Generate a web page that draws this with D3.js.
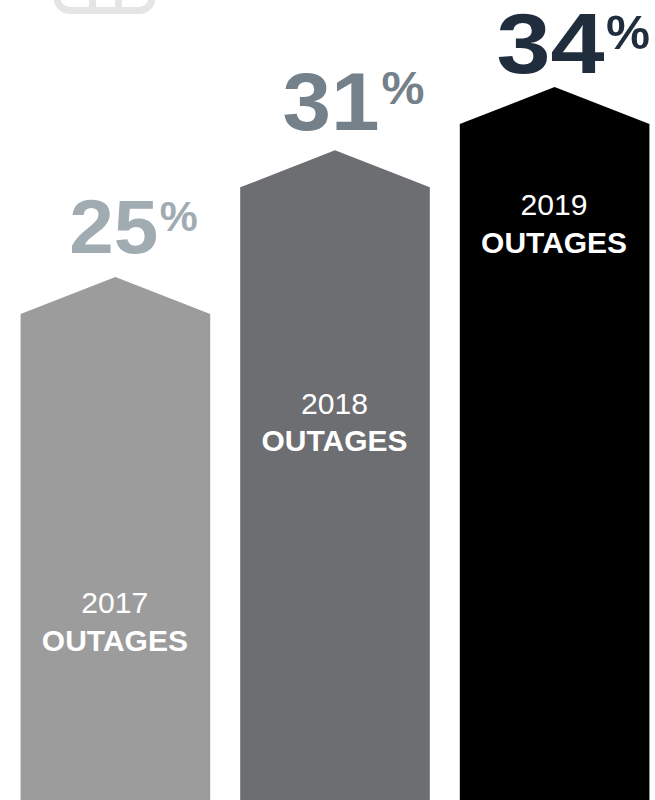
<!DOCTYPE html>
<html>
<head>
<meta charset="utf-8">
<script src="https://cdn.jsdelivr.net/npm/d3@7"></script>
<style>
  html, body { margin: 0; padding: 0; background: #fff; }
  svg { display: block; }
  text { font-family: "Liberation Sans", Arial, sans-serif; }
</style>
</head>
<body>
<div id="chart"></div>
<script>
const years = ["2017", "2018", "2019"];
const shares = [25, 31, 34];
const barColors = ["#9c9c9c", "#6d6e71", "#000000"];
const numberColors = ["#a0abb2", "#74818a", "#1f2d3d"];
const caption = "OUTAGES";

const width = 655, height = 800;
const svg = d3.select("#chart").append("svg").attr("width", width).attr("height", height);

const x = d3.scaleBand().domain(years).range([5.2, 664.8]).paddingInner(0.1365).paddingOuter(0.07);
const y = d3.scaleLinear().domain([0, 34]).range([805, 87]);
const shoulder = 37;

// Decorative emblem cut off by the top edge
const emblem = svg.append("g").attr("fill", "none").attr("stroke", "#e5e5e5").attr("stroke-width", 7);
emblem.append("rect").attr("x", 57).attr("y", -40).attr("width", 95).attr("height", 50.5).attr("rx", 13);
emblem.selectAll("line").data([92.5, 118.5]).join("line")
  .attr("x1", d => d).attr("x2", d => d).attr("y1", -5).attr("y2", 10);

// Arrow-shaped columns
const rows = years.map((year, i) => ({ year, value: shares[i], i }));
const bars = svg.selectAll("g.bar").data(rows).join("g").attr("class", "bar");
const mid = d => x(d.year) + x.bandwidth() / 2;

bars.append("path")
  .attr("fill", d => barColors[d.i])
  .attr("d", d => {
    const l = x(d.year), r = l + x.bandwidth(), top = y(d.value);
    return d3.line()([[l, height], [l, top + shoulder], [(l + r) / 2, top], [r, top + shoulder], [r, height]]) + "Z";
  });

// Large percentage figures above each column, stretched to the wide numeral set
const sizes = [76, 82, 85];
const figureWidths = [89, 97, 108];
const figureOffsets = [-1.5, -4, -4];
const figureLift = [24, 20, 14];
const pctSizes = [42, 46, 49];
const pctWidths = [38, 43, 44];
const pctOffsets = [63.5, 68, 73.5];
const pctLift = [46, 46, 38];

bars.append("text")
  .attr("x", d => mid(d) + figureOffsets[d.i])
  .attr("y", d => y(d.value) - figureLift[d.i])
  .attr("text-anchor", "middle")
  .attr("font-size", d => sizes[d.i])
  .attr("font-weight", 700)
  .attr("fill", d => numberColors[d.i])
  .attr("textLength", d => figureWidths[d.i])
  .attr("lengthAdjust", "spacingAndGlyphs")
  .text(d => d.value);

bars.append("text")
  .attr("x", d => mid(d) + pctOffsets[d.i])
  .attr("y", d => y(d.value) - pctLift[d.i])
  .attr("text-anchor", "middle")
  .attr("font-size", d => pctSizes[d.i])
  .attr("font-weight", 700)
  .attr("fill", d => numberColors[d.i])
  .attr("textLength", d => pctWidths[d.i])
  .attr("lengthAdjust", "spacingAndGlyphs")
  .text("%");

// Year and caption inside each column
const yearBase = [612.5, 414, 214.5];
const captionBase = [651, 451, 253];
bars.append("text")
  .attr("x", d => mid(d) - 0.5).attr("y", d => yearBase[d.i])
  .attr("text-anchor", "middle").attr("font-size", 30).attr("fill", "#fff")
  .attr("textLength", 67).attr("lengthAdjust", "spacingAndGlyphs")
  .text(d => d.year);
bars.append("text")
  .attr("x", d => mid(d) - 0.5).attr("y", d => captionBase[d.i])
  .attr("text-anchor", "middle").attr("font-size", 29.5).attr("font-weight", 700).attr("fill", "#fff")
  .attr("textLength", 146).attr("lengthAdjust", "spacingAndGlyphs")
  .text(caption);
</script>
</body>
</html>
